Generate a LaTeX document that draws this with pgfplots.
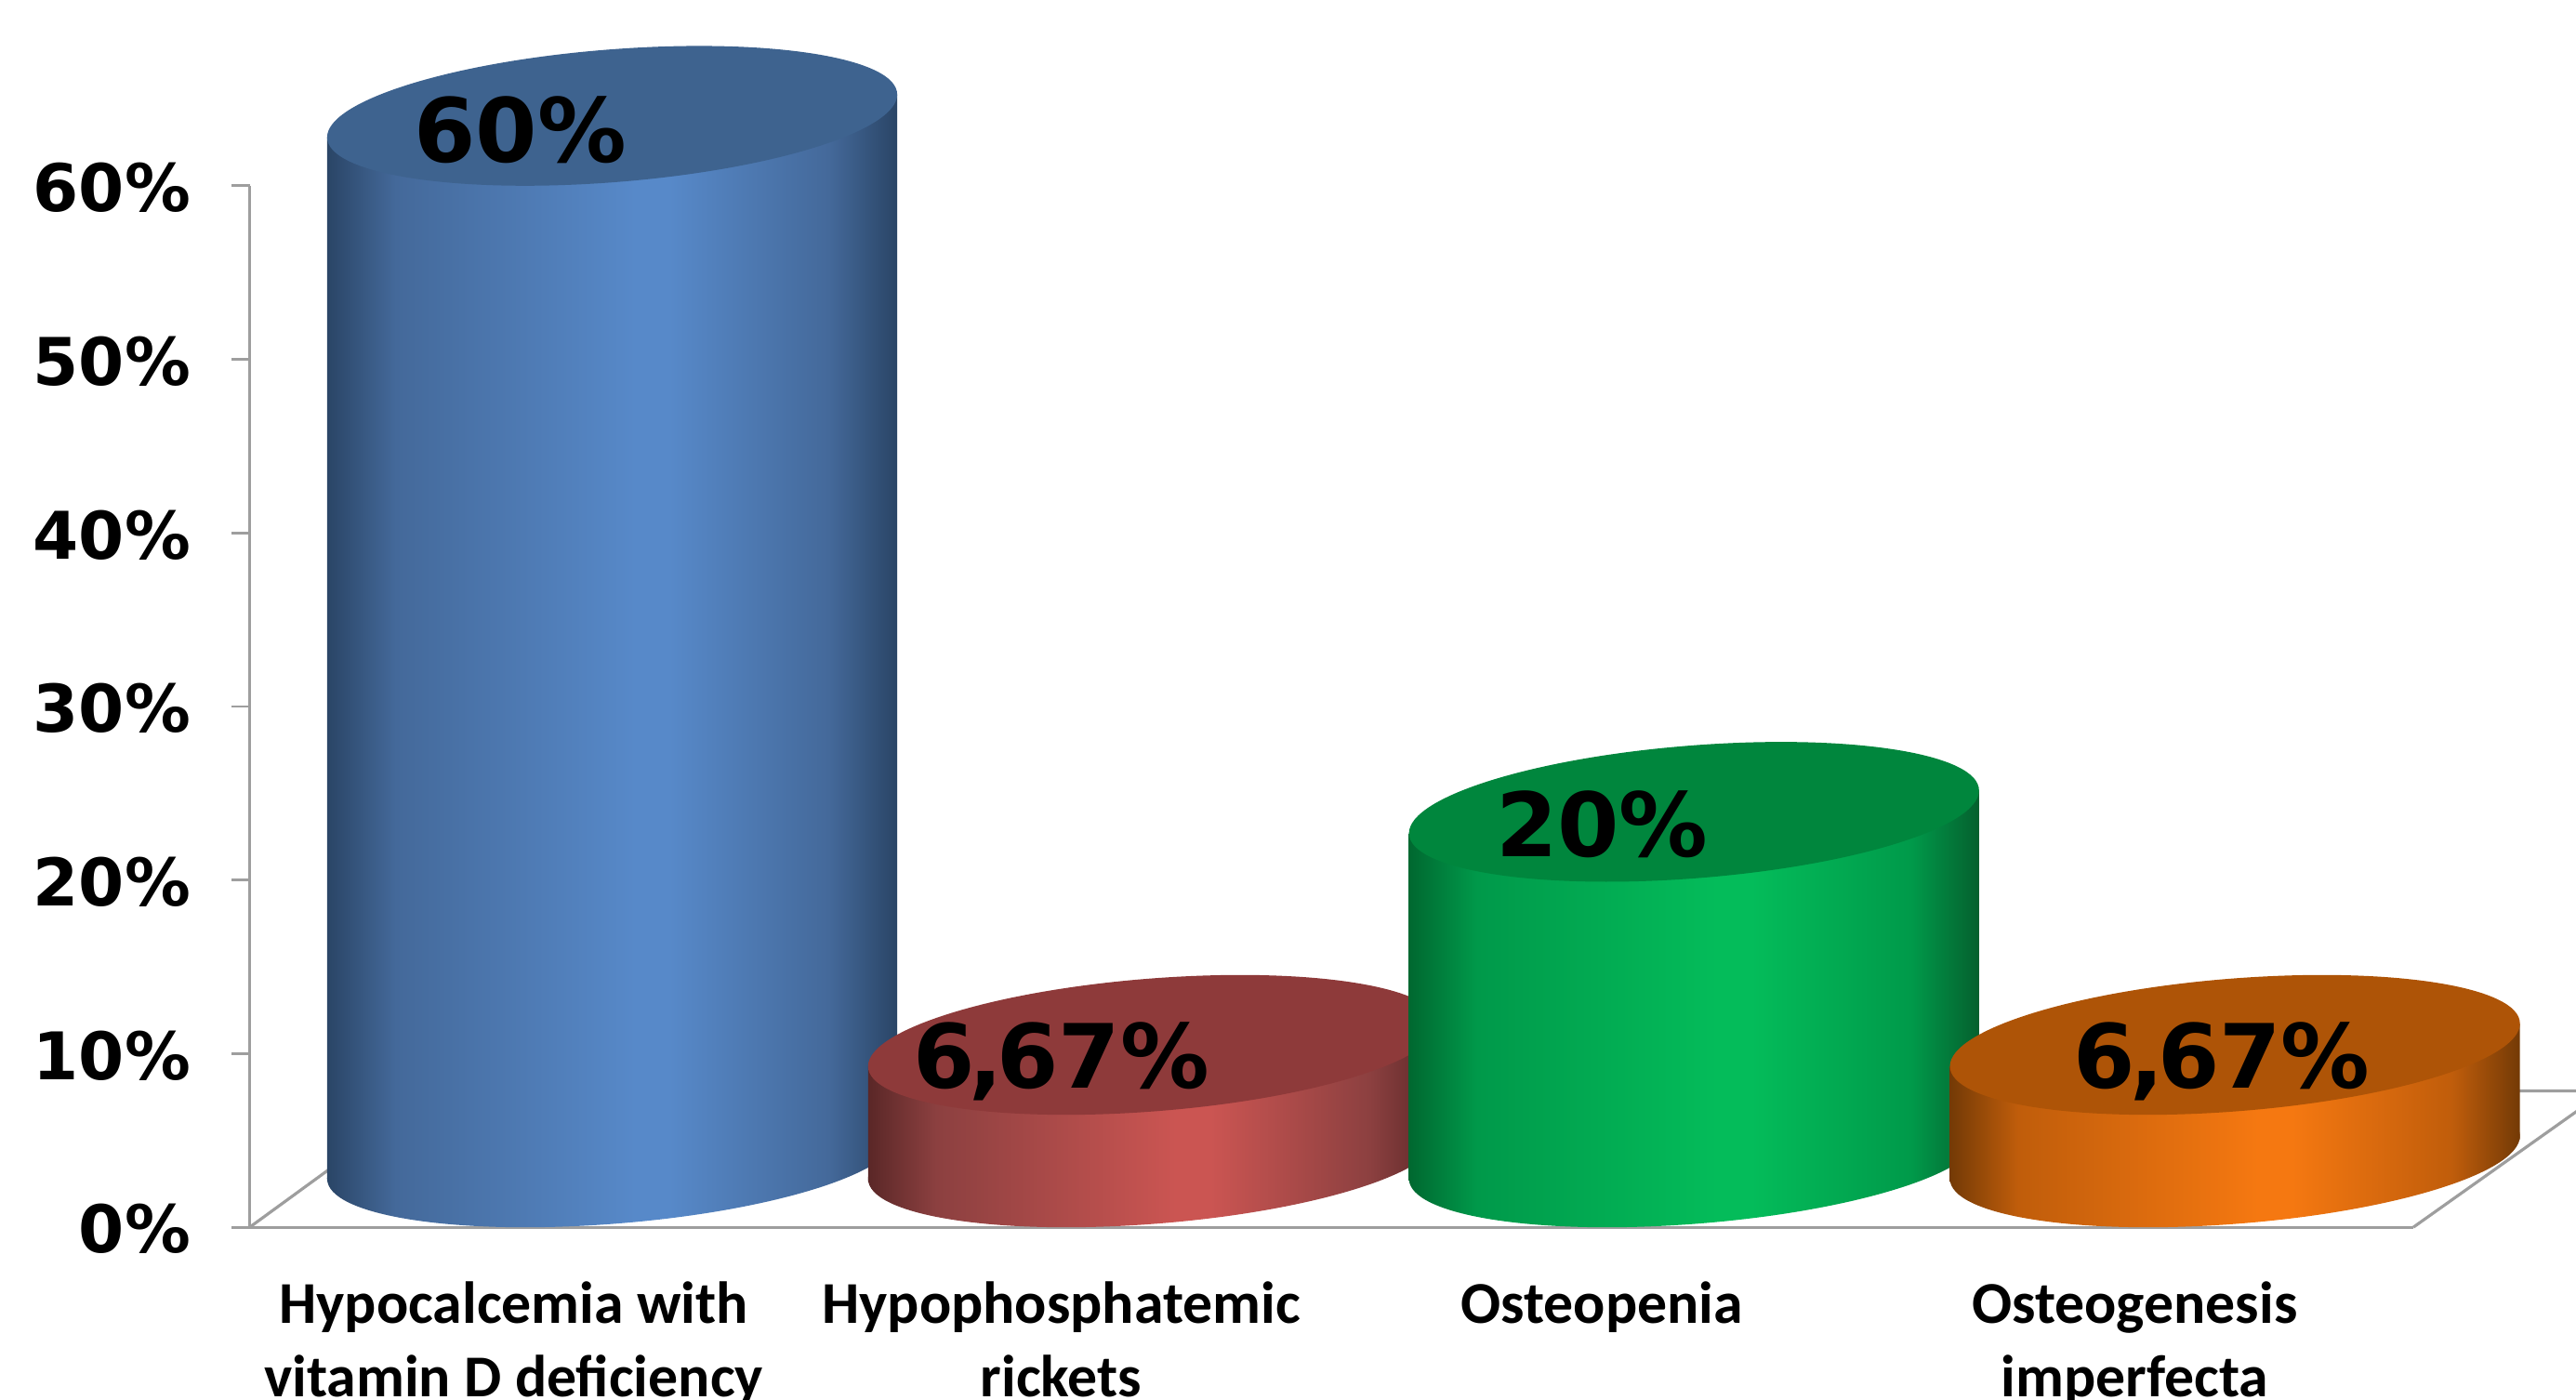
\documentclass[border=0pt]{standalone}
\usepackage{fontspec}
\setmainfont{DejaVu Sans}
\newfontfamily\catfont{Carlito}
\usepackage{pgfplots}
\pgfplotsset{compat=1.18}

% one display pixel = 0.5pt, ellipse half axes follow from that
\newcommand\capellipse{\pgfpathellipse{\pgfpointorigin}{\pgfqpoint{86.75pt}{6.5pt}}{\pgfqpoint{0pt}{20.25pt}}}

\newcommand\declarecylinder[7]{%
  \definecolor{#1edge}{HTML}{#3}%
  \definecolor{#1side}{HTML}{#4}%
  \definecolor{#1peak}{HTML}{#5}%
  \definecolor{#1rside}{HTML}{#6}%
  \definecolor{#1redge}{HTML}{#7}%
  \definecolor{#1cap}{HTML}{#2}%
  \pgfdeclarehorizontalshading{shade#1}{100bp}{%
    color(0bp)=(#1edge);color(25bp)=(#1edge);color(31bp)=(#1side);%
    color(52bp)=(#1peak);color(55bp)=(#1peak);color(69bp)=(#1rside);%
    color(75bp)=(#1redge);color(100bp)=(#1redge)}%
  \pgfdeclareplotmark{base#1}{\capellipse\pgfshadepath{shade#1}{0}\pgfusepath{}}%
  \pgfdeclareplotmark{cap#1}{\capellipse\pgfsetfillcolor{#1cap}\pgfusepathqfill}%
}
\declarecylinder{blue}{3E638F}{2A4566}{44699A}{5789C9}{44699A}{2A4566}
\declarecylinder{red}{8E3A3A}{5A2727}{8C4040}{CB5552}{8C4040}{5A2727}
\declarecylinder{green}{00863D}{006830}{00994A}{04BC5A}{009A4A}{05602E}
\declarecylinder{orange}{AE5407}{733A06}{C05D0B}{F57811}{C05D0B}{733A06}

% shift every part of a cylinder back into the depth of the floor
\pgfplotsset{
  frame/.style={
    at={(0,0)}, anchor=south west,
    scale only axis, width=658.5pt, height=317pt,
    xmin=-0.5, xmax=3.5, ymin=0, ymax=60,
    clip=false},
  depth/.style={xshift=28pt,yshift=21.25pt},
  body/.style n args={3}{ybar,bar width=173.5pt,bar shift=0pt,draw=none,shading=shade#2,
    shading angle=0,xshift=28pt,
    yshift={21.25pt+#3-0.075*(#1+0.5)*164.625pt},yslant=0.075},
}

% each cylinder gets its own axis so that it covers the one before it
\newcommand\cylinder[4]{%
  \begin{axis}[frame,hide axis]
  \addplot[only marks,mark=base#3,depth] coordinates {(#1,0)};
  \addplot[body={#1}{#3}{#4}] coordinates {(#1,#2)};
  \addplot[only marks,mark=cap#3,depth,yshift=#4] coordinates {(#1,#2)};
  \end{axis}%
}
\newcommand\tightcomma{\kern-1.75pt,\kern-1.75pt}

\begin{document}
\begin{tikzpicture}
\path[use as bounding box] (-76pt,-52.5pt) rectangle (708pt,373.5pt);
\clip (-76pt,-52.5pt) rectangle (708pt,373.5pt);
\begin{axis}[
  frame,
  axis y line=left, axis x line=bottom,
  axis line style={-,draw=black!38,line width=0.9pt},
  ytick={0,10,20,30,40,50,60},
  yticklabel={\pgfmathprintnumber{\tick}\%},
  /pgf/number format/assume math mode=true,
  y tick label style={font=\fontsize{20}{20}\selectfont\bfseries,xshift=-9pt,yshift=-0.6pt},
  ytick style={draw=black!38,line width=0.8pt},
  tick align=outside, major tick length=5.5pt,
  xtick={-0.012,1,2,2.985},
  xticklabels={{Hypocalcemia with\\vitamin D deficiency},{Hypophosphatemic\\rickets},{Osteopenia},{Osteogenesis\\imperfecta}},
  x tick label style={font=\catfont\fontsize{18.05}{22.5}\selectfont\bfseries,align=center,anchor=north,yshift=-7.5pt},
  x tick style={draw=none},
]
% floor of the 3D box, behind the cylinders
\draw[black!38,line width=0.9pt] (axis cs:-0.5,0) -- ++(57pt,41.5pt) -- ++(660pt,0pt) -- (axis cs:3.5,0);
\end{axis}

\cylinder{0}{60}{blue}{0pt}
\cylinder{1}{6.67}{red}{-1pt}
\cylinder{2}{20}{green}{-0.5pt}
\cylinder{3}{6.67}{orange}{-1pt}

\begin{axis}[frame,hide axis]
\addplot[draw=none,mark=none,point meta=explicit symbolic,nodes near coords,
  every node near coord/.append style={font=\fontsize{27}{27}\selectfont\bfseries,
    text=black,anchor=base,yshift=7pt,inner sep=0pt}]
  coordinates {(0,60)[60\%] (1,6.67)[6\tightcomma 67\%] (2,20)[20\%] (3.146,6.67)[6\tightcomma 67\%]};
\end{axis}
\end{tikzpicture}
\end{document}
